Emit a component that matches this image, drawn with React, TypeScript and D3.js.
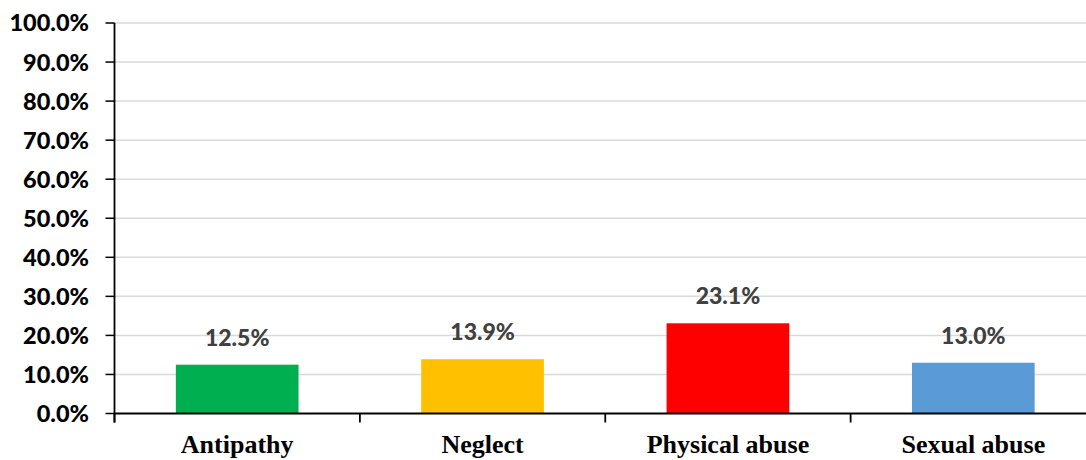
import React from "react";
import * as d3 from "d3";

const categories = ["Antipathy", "Neglect", "Physical abuse", "Sexual abuse"];
const values = [12.5, 13.9, 23.1, 13.0];
const colors = ["#00b050", "#ffc000", "#ff0000", "#5b9bd5"];
const yTicks = [0, 10, 20, 30, 40, 50, 60, 70, 80, 90, 100];

const W = 1086;
const H = 460;
const left = 114.5;
const top = 23;
const bottom = 413.5;
const bandRight = 1096;

export default function App() {
  const x = d3.scaleBand<string>().domain(categories).range([left, bandRight]).paddingInner(0.5).paddingOuter(0.25);
  const y = d3.scaleLinear().domain([0, 100]).range([bottom, top]);
  const step = x.step();
  const catTicks = d3.range(categories.length + 1).map((i) => left + i * step);

  return (
    <svg width={W} height={H} style={{ position: "absolute", left: 0, top: 0, background: "#fff" }}>
      {yTicks.map((t) => (
        <g key={t}>
          {t > 0 && <line x1={left} x2={W} y1={y(t)} y2={y(t)} stroke="#d9d9d9" strokeWidth={1.5} />}
          <line x1={left - 9} x2={left} y1={y(t)} y2={y(t)} stroke="#000" strokeWidth={1.5} />
          <text x={89} y={y(t)} dy="0.36em" textAnchor="end" fontFamily="Lato" fontWeight="900" fontSize={23.5} fill="#000">
            {t.toFixed(1) + "%"}
          </text>
        </g>
      ))}
      {categories.map((c, i) => (
        <g key={c}>
          <rect x={x(c)} y={y(values[i])} width={x.bandwidth()} height={bottom - y(values[i])} fill={colors[i]} />
          <text x={(x(c) as number) + x.bandwidth() / 2} y={y(values[i]) - 19} textAnchor="middle" fontFamily="Lato" fontWeight="900" fontSize={23} fill="#404040">
            {values[i].toFixed(1) + "%"}
          </text>
          <text x={(x(c) as number) + x.bandwidth() / 2} y={453} textAnchor="middle" fontFamily="Liberation Serif" fontWeight="bold" fontSize={26} fill="#000">
            {c}
          </text>
        </g>
      ))}
      <line x1={left} x2={left} y1={top} y2={bottom + 9} stroke="#000" strokeWidth={1.8} />
      <line x1={left} x2={W} y1={bottom} y2={bottom} stroke="#000" strokeWidth={1.8} />
      {catTicks.map((tx, i) => (
        <line key={i} x1={tx} x2={tx} y1={bottom} y2={bottom + 9} stroke="#000" strokeWidth={1.8} />
      ))}
    </svg>
  );
}
